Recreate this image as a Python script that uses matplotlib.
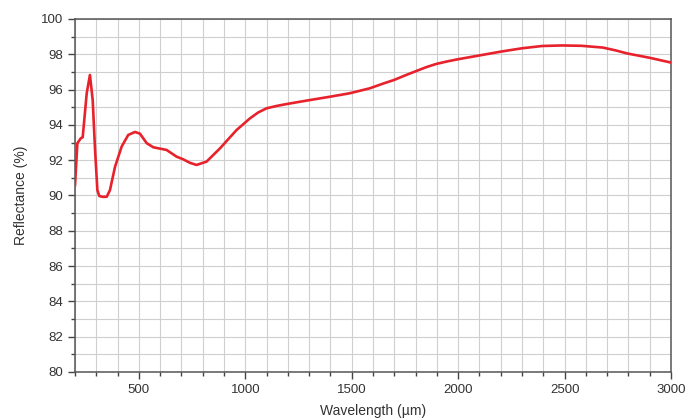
import matplotlib.pyplot as plt
from matplotlib.ticker import MultipleLocator

plt.rcParams["font.family"] = ["Liberation Sans", "DejaVu Sans"]

# values
wavelength = [200, 211, 227, 236, 255, 270, 283, 294, 305, 314, 330, 349, 364,
              388, 419, 450, 482, 505, 537, 568, 630, 677, 708, 740, 771, 818,
              881, 959, 1022, 1060, 1100, 1150, 1194, 1256, 1300, 1400, 1490,
              1584, 1650, 1700, 1750, 1803, 1850, 1896, 1950, 2000, 2098, 2200,
              2300, 2395, 2488, 2580, 2680, 2740, 2793, 2900, 3000]
reflectance = [90.6, 92.96, 93.24, 93.3, 95.8, 96.83, 95.4, 92.6, 90.3, 89.97,
               89.92, 89.93, 90.3, 91.63, 92.77, 93.43, 93.6, 93.5, 92.96, 92.73,
               92.58, 92.2, 92.05, 91.85, 91.73, 91.92, 92.67, 93.71, 94.37, 94.7,
               94.94, 95.08, 95.18, 95.31, 95.4, 95.6, 95.79, 96.07, 96.35, 96.55,
               96.8, 97.05, 97.27, 97.45, 97.6, 97.72, 97.93, 98.15, 98.34, 98.47,
               98.5, 98.48, 98.38, 98.22, 98.05, 97.8, 97.53]

fig = plt.figure(figsize=(6.89, 4.19), dpi=100, facecolor="w")
ax = fig.add_axes([0.1089, 0.1122, 0.865, 0.8425])

ax.plot(wavelength, reflectance, color="#e8222c", linewidth=1.9, zorder=3,
        solid_joinstyle="round")

ax.set_xlim(200, 3000)
ax.set_ylim(80, 100)
ax.xaxis.set_major_locator(MultipleLocator(500))
ax.xaxis.set_minor_locator(MultipleLocator(100))
ax.yaxis.set_major_locator(MultipleLocator(2))
ax.yaxis.set_minor_locator(MultipleLocator(1))

ax.grid(which="both", color="#cfcfcf", linewidth=0.8, zorder=0)
ax.set_axisbelow(True)

ax.tick_params(which="major", direction="out", length=5, width=1, colors="#444444",
               labelsize=9.5, labelcolor="#333333")
ax.tick_params(which="minor", direction="out", length=3, width=1, colors="#444444")
for s in ax.spines.values():
    s.set_color("#555555")
    s.set_linewidth(1.1)

ax.set_xlabel("Wavelength (µm)", fontsize=10, color="#333333", labelpad=6)
ax.set_ylabel("Reflectance (%)", fontsize=10, color="#333333", labelpad=9)

fig.savefig("out.png", dpi=100)
